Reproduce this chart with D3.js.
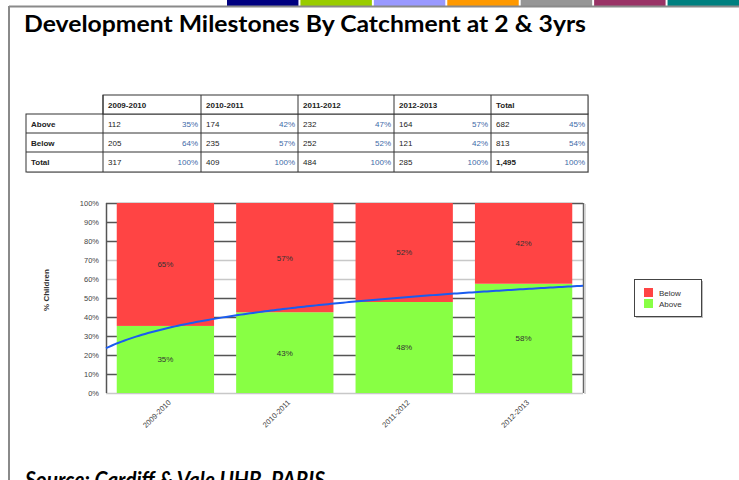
<!DOCTYPE html>
<html><head><meta charset="utf-8">
<script src="https://cdn.jsdelivr.net/npm/d3@7"></script>
<style>body{margin:0;background:#fff;}svg{display:block;}</style>
</head><body>
<svg id="c" width="739" height="480"></svg>
<script>
// ---- data ----
const years = ["2009-2010","2010-2011","2011-2012","2012-2013"];
const tableCols = ["2009-2010","2010-2011","2011-2012","2012-2013","Total"];
const rowNames = ["Above","Below","Total"];
const aboveCounts = ["112","174","232","164","682"];
const abovePcts = ["35%","42%","47%","57%","45%"];
const belowCounts = ["205","235","252","121","813"];
const belowPcts = ["64%","57%","52%","42%","54%"];
const totalCounts = ["317","409","484","285","1,495"];
const totalPcts = ["100%","100%","100%","100%","100%"];
const abovePct = [35.3, 42.5, 47.9, 57.5];
const belowPct = [64.7, 57.5, 52.1, 42.5];
const aboveLabels = ["35%","43%","48%","58%"];
const belowLabels = ["65%","57%","52%","42%"];
const yTicks = [0,10,20,30,40,50,60,70,80,90,100];
const stripColors = ["#000080","#99CC00","#9999FF","#FF9900","#969696","#993366","#008080"];
const legendItems = ["Below","Above"];
const seriesColors = {Below:"#FF4444", Above:"#88FF44"};

const svg = d3.select("#c");

// ---- page frame ----
const stripX = d3.scaleBand().domain(d3.range(stripColors.length)).range([227, 739]).paddingInner(0.027);
svg.selectAll("rect.strip").data(stripColors).enter().append("rect")
  .attr("x",(d,i)=>stripX(i)).attr("y",0).attr("width",stripX.bandwidth()).attr("height",6).attr("fill",d=>d);
svg.append("line").attr("x1",9).attr("x2",739).attr("y1",6.5).attr("y2",6.5).attr("stroke","#8a8a8a").attr("stroke-width",2);
svg.append("line").attr("x1",9).attr("x2",9).attr("y1",6).attr("y2",480).attr("stroke","#8a8a8a").attr("stroke-width",2);

svg.append("text").attr("x",24).attr("y",32)
  .attr("font-family","Lato, 'Open Sans', sans-serif").attr("font-weight","bold").attr("font-size",22)
  .attr("textLength",562).attr("lengthAdjust","spacingAndGlyphs").attr("fill","#000")
  .text("Development Milestones By Catchment at 2 & 3yrs");

svg.append("text").attr("x",25).attr("y",488)
  .attr("font-family","Lato, 'Open Sans', sans-serif").attr("font-weight","bold").attr("font-style","italic").attr("font-size",22)
  .attr("textLength",300).attr("lengthAdjust","spacingAndGlyphs").attr("fill","#000")
  .text("Source: Cardiff & Vale UHB, PARIS");

// ---- table ----
const tblFont = "'Liberation Sans', Arial, sans-serif";
const colEdges = [26, 103, 201, 298, 394, 491, 588];
const rowEdges = [95, 114, 133, 152, 172];
const tg = svg.append("g");
tg.append("rect").attr("x",27).attr("y",115).attr("width",588-26).attr("height",172-114).attr("fill","#cfcfcf");
tg.append("rect").attr("x",104).attr("y",96).attr("width",588-103).attr("height",19).attr("fill","#cfcfcf");
tg.append("rect").attr("x",26).attr("y",114).attr("width",588-26).attr("height",172-114).attr("fill","#fff").attr("stroke","#333").attr("stroke-width",1);
tg.append("rect").attr("x",103).attr("y",95).attr("width",588-103).attr("height",19).attr("fill","#fff").attr("stroke","#333").attr("stroke-width",1);
[133,152].forEach(y=>tg.append("line").attr("x1",26).attr("x2",588).attr("y1",y).attr("y2",y).attr("stroke","#333"));
colEdges.slice(1,-1).forEach(x=>tg.append("line").attr("x1",x).attr("x2",x).attr("y1",95).attr("y2",172).attr("stroke","#333"));
tg.selectAll("text.hdr").data(tableCols).enter().append("text")
  .attr("x",(d,i)=>colEdges[i+1]+5).attr("y",107.5).attr("font-family",tblFont).attr("font-size",8).attr("font-weight","bold").attr("fill","#222").text(d=>d);
const rows = [[aboveCounts,abovePcts],[belowCounts,belowPcts],[totalCounts,totalPcts]];
rows.forEach((r,ri)=>{
  const y = rowEdges[ri+1]+12.5;
  tg.append("text").attr("x",31).attr("y",y).attr("font-family",tblFont).attr("font-size",8).attr("font-weight","bold").attr("fill","#222").text(rowNames[ri]);
  r[0].forEach((v,ci)=>{
    tg.append("text").attr("x",colEdges[ci+1]+5).attr("y",y).attr("font-family",tblFont).attr("font-size",8).attr("fill","#222").attr("font-weight", ri===2&&ci===4?"bold":"normal").text(v);
    tg.append("text").attr("x",colEdges[ci+2]-3).attr("y",y).attr("text-anchor","end").attr("font-family",tblFont).attr("font-size",8).attr("fill","#3d6aa8").text(r[1][ci]);
  });
});

// ---- chart ----
const plot = {left:106, right:583, top:203, bottom:393};
const x = d3.scaleBand().domain(years).range([plot.left, plot.right]).paddingInner(0.185).paddingOuter(0.09);
const y = d3.scaleLinear().domain([0,100]).range([plot.bottom, plot.top]);
const cg = svg.append("g");
cg.selectAll("line.grid").data(yTicks).enter().append("line")
  .attr("x1",plot.left).attr("x2",plot.right).attr("y1",d=>Math.round(y(d))+0.5).attr("y2",d=>Math.round(y(d))+0.5)
  .attr("stroke",d=>(d===0||d===60||d===70)?"#c8c8c8":"#555").attr("stroke-width",1.4);
cg.append("line").attr("x1",plot.right+0.5).attr("x2",plot.right+0.5).attr("y1",plot.top).attr("y2",plot.bottom).attr("stroke","#666").attr("stroke-width",1.5);
cg.append("line").attr("x1",plot.right+2).attr("x2",plot.right+2).attr("y1",plot.top+1).attr("y2",plot.bottom+1).attr("stroke","#ccc").attr("stroke-width",1.5);
cg.selectAll("rect.above").data(years).enter().append("rect")
  .attr("x",d=>x(d)).attr("width",x.bandwidth()).attr("y",(d,i)=>y(abovePct[i])).attr("height",(d,i)=>y(0)-y(abovePct[i])).attr("fill",seriesColors.Above);
cg.selectAll("rect.below").data(years).enter().append("rect")
  .attr("x",d=>x(d)).attr("width",x.bandwidth()).attr("y",(d,i)=>y(abovePct[i]+belowPct[i])).attr("height",(d,i)=>y(abovePct[i])-y(abovePct[i]+belowPct[i])).attr("fill",seriesColors.Below);
const lblFont = "'Liberation Sans', Arial, sans-serif";
cg.selectAll("text.al").data(years).enter().append("text")
  .attr("x",d=>x(d)+x.bandwidth()/2).attr("y",(d,i)=>(y(0)+y(abovePct[i]))/2+3).attr("text-anchor","middle")
  .attr("font-family",lblFont).attr("font-size",8).attr("fill","#333").text((d,i)=>aboveLabels[i]);
cg.selectAll("text.bl").data(years).enter().append("text")
  .attr("x",d=>x(d)+x.bandwidth()/2).attr("y",(d,i)=>(y(abovePct[i])+y(100))/2+3).attr("text-anchor","middle")
  .attr("font-family",lblFont).attr("font-size",8).attr("fill","#333").text((d,i)=>belowLabels[i]);
cg.append("line").attr("x1",plot.left+0.5).attr("x2",plot.left+0.5).attr("y1",plot.top).attr("y2",plot.bottom).attr("stroke","#555").attr("stroke-width",1.5);
cg.selectAll("text.yt").data(yTicks).enter().append("text")
  .attr("x",99).attr("y",d=>y(d)+3).attr("text-anchor","end").attr("font-family",lblFont).attr("font-size",7.5).attr("fill","#444").text(d=>d+"%");
svg.append("text").attr("transform","translate(49,290) rotate(-90)").attr("text-anchor","middle")
  .attr("font-family",lblFont).attr("font-size",8).attr("font-weight","bold").attr("fill","#333").text("% Children");
cg.selectAll("text.xt").data(years).enter().append("text")
  .attr("transform",d=>`translate(${x(d)+x.bandwidth()/2+6},${plot.bottom+10}) rotate(-45)`).attr("text-anchor","end")
  .attr("font-family",lblFont).attr("font-size",7.5).attr("fill","#444").text(d=>d);

// log trendline of Above series
const lnX = abovePct.map((v,i)=>Math.log(i+1));
const mx = d3.mean(lnX), my = d3.mean(abovePct);
const b = d3.sum(lnX.map((l,i)=>(l-mx)*(abovePct[i]-my)))/d3.sum(lnX.map(l=>(l-mx)*(l-mx)));
const a = my - b*mx;
const step = x.step(), c0 = x(years[0])+x.bandwidth()/2;
const pxs = d3.range(plot.left, plot.right+1, 3);
const trend = pxs.map(px=>{const u = 1+(px-c0)/step; return [px, y(a+b*Math.log(u))];});
cg.append("path").attr("d",d3.line()(trend)).attr("fill","none").attr("stroke","#1a5cf0").attr("stroke-width",2);

// legend
const lg = svg.append("g");
lg.append("rect").attr("x",636).attr("y",281).attr("width",67).attr("height",37).attr("fill","#bbb");
lg.append("rect").attr("x",634.5).attr("y",279.5).attr("width",67).attr("height",37).attr("fill","#fff").attr("stroke","#444").attr("stroke-width",1);
legendItems.forEach((k,i)=>{
  lg.append("rect").attr("x",644).attr("y",288+i*11).attr("width",9).attr("height",9).attr("fill",seriesColors[k]);
  lg.append("text").attr("x",659).attr("y",296+i*11).attr("font-family",lblFont).attr("font-size",8).attr("fill","#333").text(k);
});
</script>
</body></html>
